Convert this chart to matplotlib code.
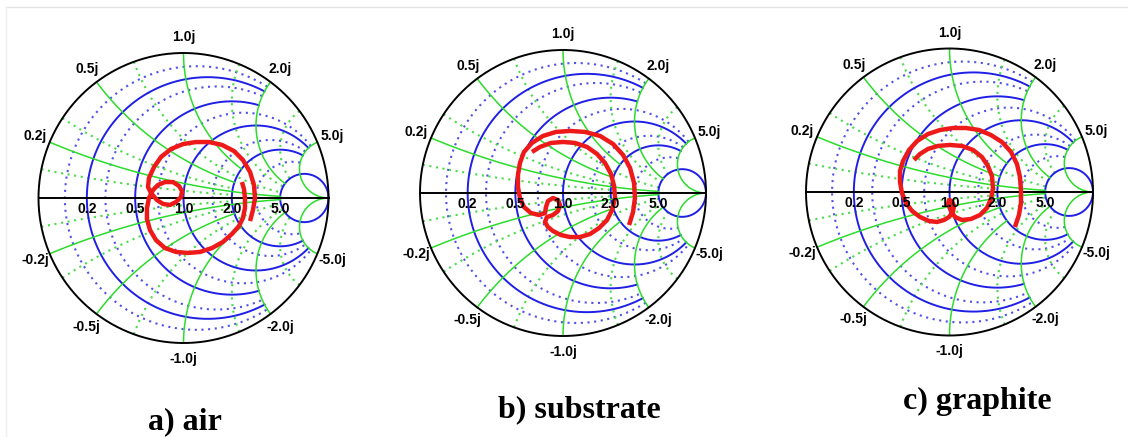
import numpy as np
import matplotlib
matplotlib.use('Agg')
import matplotlib.pyplot as plt
from matplotlib.lines import Line2D

W, H = 1128, 437

# ---- Smith chart grid values ----
r_major = [0.2, 0.5, 1.0, 2.0, 5.0]
r_major_lim = [2, 2, 5, 5, np.inf]
x_major = [0.2, 0.5, 1.0, 2.0, 5.0]
x_major_lim = [5, 2, 2, 5, np.inf]
r_minor = [0.1, 0.3, 0.7, 1.5, 3.0]
r_minor_lim = [2, 2, 5, 5, 5]
x_minor = [0.1, 0.3, 0.7, 1.5, 3.0]
x_minor_lim = [2, 2, 5, 5, 5]

edge_vals = [1.0, 0.5, 2.0, 0.2, 5.0, -0.2, -5.0, -0.5, -2.0, -1.0]
edge_labels = ['1.0j', '0.5j', '2.0j', '0.2j', '5.0j', '-0.2j', '-5.0j', '-0.5j', '-2.0j', '-1.0j']
axis_vals = [0.2, 0.5, 1.0, 2.0, 5.0]
axis_labels = ['0.2', '0.5', '1.0', '2.0', '5.0']

titles = ['a) air', 'b) substrate', 'c) graphite']

# ---- measured reflection coefficient traces (real, imag) ----
air_re = [0.459, 0.479, 0.493, 0.486, 0.459, 0.410, 0.348, 0.266, 0.176, 0.086, -0.003,
          -0.086, -0.155, -0.203, -0.238, -0.245, -0.224,
          -0.183, -0.141, -0.093, -0.052, -0.017, -0.010, -0.031, -0.072, -0.128, -0.176, -0.210,
          -0.238, -0.252, -0.252, -0.231, -0.190, -0.128, -0.052, 0.031, 0.114, 0.197, 0.272,
          0.334, 0.383, 0.410, 0.424, 0.424, 0.417, 0.403]
air_im = [-0.159, -0.083, 0.000, 0.090, 0.179, 0.262, 0.324, 0.366, 0.386, 0.386, 0.372,
          0.338, 0.283, 0.214, 0.138, 0.076, 0.034,
          -0.014, -0.041, -0.048, -0.028, 0.007, 0.048, 0.083, 0.110, 0.110, 0.090, 0.055,
          0.000, -0.069, -0.145, -0.221, -0.290, -0.345, -0.372, -0.379, -0.372, -0.345, -0.303,
          -0.248, -0.193, -0.138, -0.069, 0.000, 0.062, 0.110]

sub_re = [0.462, 0.490, 0.503, 0.497, 0.469, 0.420, 0.350, 0.259, 0.154, 0.049, -0.049,
          -0.140, -0.217, -0.273, -0.301, -0.315, -0.315, -0.301, -0.273, -0.224, -0.168,
          -0.126, -0.119, -0.105, -0.070, -0.035, -0.021, -0.035, -0.070, -0.112, -0.126,
          -0.105, -0.070, -0.014, 0.049, 0.119, 0.189, 0.252, 0.308, 0.343, 0.364, 0.357,
          0.336, 0.294, 0.238, 0.168, 0.084, 0.000, -0.084, -0.161, -0.217]
sub_im = [-0.224, -0.133, -0.035, 0.070, 0.175, 0.266, 0.343, 0.399, 0.427, 0.434, 0.427,
          0.399, 0.350, 0.287, 0.210, 0.126, 0.042, -0.035, -0.098, -0.140, -0.154,
          -0.140, -0.098, -0.056, -0.035, -0.049, -0.084, -0.126, -0.154, -0.168, -0.203,
          -0.238, -0.266, -0.294, -0.308, -0.308, -0.287, -0.245, -0.189, -0.119, -0.035, 0.049,
          0.133, 0.210, 0.273, 0.322, 0.350, 0.357, 0.350, 0.322, 0.287]

gra_re = [-0.247, -0.206, -0.150, -0.080, 0.003, 0.087, 0.164, 0.226, 0.268, 0.296, 0.303,
          0.289, 0.261, 0.213, 0.150, 0.087, 0.038, 0.010, -0.010, -0.003, 0.017, 0.031, 0.024,
          -0.003, -0.038, -0.087, -0.143, -0.206, -0.261, -0.303, -0.331, -0.345, -0.345,
          -0.324, -0.282, -0.226, -0.150, -0.066, 0.024, 0.115, 0.206, 0.289, 0.366, 0.429,
          0.470, 0.491, 0.498, 0.498, 0.484, 0.456]
gra_im = [0.223, 0.265, 0.300, 0.321, 0.328, 0.321, 0.293, 0.244, 0.181, 0.111, 0.028,
          -0.049, -0.111, -0.160, -0.188, -0.195, -0.174, -0.132, -0.084, -0.056, -0.063, -0.098,
          -0.139, -0.174, -0.195, -0.209, -0.202, -0.174, -0.132, -0.077, -0.007, 0.070, 0.146,
          0.216, 0.293, 0.355, 0.404, 0.432, 0.446, 0.446, 0.432, 0.397, 0.348, 0.279,
          0.195, 0.105, 0.014, -0.077, -0.160, -0.244]

traces = [(air_re, air_im), (sub_re, sub_im), (gra_re, gra_im)]

# ---- layout (pixel centres / radii of the charts, title baselines) ----
centers = [(183.5, 198.0, 145.0), (563.0, 193.0, 143.0), (949.5, 192.0, 143.5)]
title_pos = [(185, 429), (579, 417), (977, 409.5)]

BLUE = '#1f1fe6'
GREEN = '#2bdc2b'
BLUE_DOT = '#5050f0'
GREEN_DOT = '#48dd48'
RED = '#ee1a1a'


def r_circle(r, lim):
    phi = np.linspace(1e-4, 2 * np.pi - 1e-4, 3000)
    g = r / (1 + r) + np.exp(1j * phi) / (1 + r)
    z = (1 + g) / (1 - g)
    return g[np.abs(z.imag) <= lim]


def x_arc(x, lim):
    tmax = np.arctan(lim) if np.isfinite(lim) else np.pi / 2 - 1e-5
    t = np.linspace(0, tmax, 1500)
    z = np.tan(t) + 1j * x
    return (z - 1) / (z + 1)


fig = plt.figure(figsize=(W / 100, H / 100), dpi=100)
fig.patch.set_facecolor('white')

fig.add_artist(Line2D([6 / W, 1], [1 - 7 / H, 1 - 7 / H], color='#e3e3e3', lw=1.0))
fig.add_artist(Line2D([6 / W, 6 / W], [0, 1 - 7 / H], color='#ededed', lw=1.0))

L = 1.25
lab_font = dict(family='Liberation Sans', fontweight='bold', fontsize=10, color='black')

for (cx, cy, R), (tre, tim), title, (tx, ty) in zip(centers, traces, titles, title_pos):
    ax = fig.add_axes([(cx - L * R) / W, 1 - (cy + L * R) / H, 2 * L * R / W, 2 * L * R / H])
    ax.set_xlim(-L, L)
    ax.set_ylim(-L, L)
    ax.axis('off')

    for r, lim in zip(r_minor, r_minor_lim):
        g = r_circle(r, lim)
        ax.plot(g.real, g.imag, color=BLUE_DOT, lw=1.5, ls=(0, (1, 2.2)), zorder=1)
    for x, lim in zip(x_minor, x_minor_lim):
        for s in (1, -1):
            g = x_arc(s * x, lim)
            ax.plot(g.real, g.imag, color=GREEN_DOT, lw=1.5, ls=(0, (1, 2.2)), zorder=1)

    for r, lim in zip(r_major, r_major_lim):
        g = r_circle(r, lim)
        ax.plot(g.real, g.imag, color=BLUE, lw=1.4, zorder=2)
    for x, lim in zip(x_major, x_major_lim):
        for s in (1, -1):
            g = x_arc(s * x, lim)
            ax.plot(g.real, g.imag, color=GREEN, lw=1.1, zorder=2)

    th = np.linspace(0, 2 * np.pi, 600)
    ax.plot(np.cos(th), np.sin(th), color='black', lw=1.4, zorder=3)
    ax.plot([-1, 1], [0, 0], color='black', lw=1.4, zorder=3)

    for v, lab in zip(edge_vals, edge_labels):
        ge = (1j * v - 1) / (1j * v + 1)
        p = 1.11 * ge
        ax.text(p.real, p.imag, lab, ha='center', va='center', **lab_font, zorder=5)
    for v, lab in zip(axis_vals, axis_labels):
        gx = (v - 1) / (v + 1)
        ax.text(gx, -0.075, lab, ha='center', va='center', **lab_font, zorder=5)

    ax.plot(tre, tim, color=RED, lw=3.2, solid_capstyle='butt', solid_joinstyle='round', zorder=4)

    fig.text(tx / W, 1 - ty / H, title, ha='center', va='baseline',
             family='Liberation Serif', fontweight='bold', fontsize=23)

fig.savefig('out.png', dpi=100, facecolor='white')
